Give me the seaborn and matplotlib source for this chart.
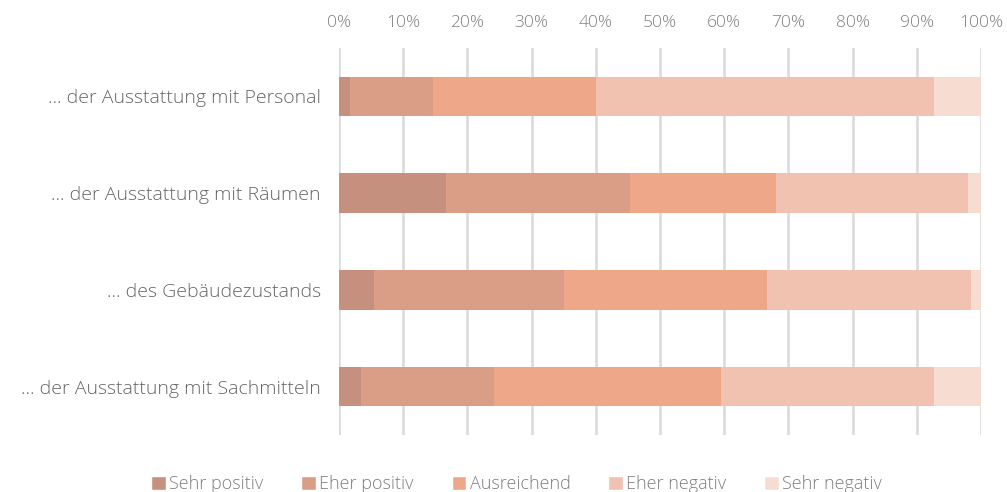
import pandas as pd
import seaborn as sns
import matplotlib.pyplot as plt
from matplotlib.patches import Patch

# Data (percent of answers)
categories = [
    "... der Ausstattung mit Personal",
    "... der Ausstattung mit Räumen",
    "... des Gebäudezustands",
    "... der Ausstattung mit Sachmitteln",
]
series = ["Sehr positiv", "Eher positiv", "Ausreichend", "Eher negativ", "Sehr negativ"]
sehr_positiv = [1.7, 16.7, 5.5, 3.5]
eher_positiv = [13.0, 28.6, 29.5, 20.7]
ausreichend = [25.3, 22.8, 31.6, 35.3]
eher_negativ = [52.7, 29.9, 31.9, 33.2]
sehr_negativ = [7.3, 2.0, 1.5, 7.3]
x_ticks = list(range(0, 101, 10))

colors = ["#C6907F", "#DA9E86", "#EFA78A", "#F2C2B1", "#F7DCD2"]

sns.set_style("white")
plt.rcParams["font.family"] = ["Open Sans", "DejaVu Sans"]

df = pd.DataFrame(
    [sehr_positiv, eher_positiv, ausreichend, eher_negativ, sehr_negativ],
    index=series, columns=categories,
).T

fig, ax = plt.subplots(figsize=(10.07, 4.92), dpi=100)
fig.subplots_adjust(left=0.3366, right=0.9742, top=0.9024, bottom=0.1159)

# Stacked horizontal bars, one seaborn barplot per series (cumulative widths)
left = pd.Series(0.0, index=df.index)
for name, col in zip(series, colors):
    cum = left + df[name]
    sns.barplot(x=cum.values, y=df.index, color=col, orient="h", width=0.41,
                ax=ax, saturation=1)
    left = cum

# shorter cumulative bars go on top
for i, container in enumerate(ax.containers):
    for bar in container:
        bar.set_zorder(10 - i)
        bar.set_linewidth(0)

ax.set_xlim(0, 100)
ax.set_ylim(3.5, -0.5)
ax.xaxis.tick_top()
ax.set_xticks(x_ticks)
ax.set_xticklabels([f"{t}%" for t in x_ticks], color="#7F7F7F", fontsize=12.5,
                   fontweight="light")
ax.tick_params(axis="x", length=0, pad=12)
ax.tick_params(axis="y", length=0, pad=13)
for lab in ax.get_yticklabels():
    lab.set_color("#666666")
    lab.set_fontsize(14)
    lab.set_fontweight("light")
ax.set_xlabel("")
ax.set_ylabel("")
ax.grid(axis="x", color="#D9D9D9", linewidth=1.8, zorder=0)
ax.set_axisbelow(True)
for s in ax.spines.values():
    s.set_visible(False)

handles = [Patch(facecolor=c, label=n) for n, c in zip(series, colors)]
fig.legend(handles=handles, loc="lower center", ncol=5, frameon=False,
           bbox_to_anchor=(0.513, -0.035), handlelength=0.8, handleheight=0.8,
           handletextpad=0.2, columnspacing=2.1,
           prop={"size": 13, "weight": "light"}, labelcolor="#7F7F7F")

plt.savefig("out.png", dpi=100)
